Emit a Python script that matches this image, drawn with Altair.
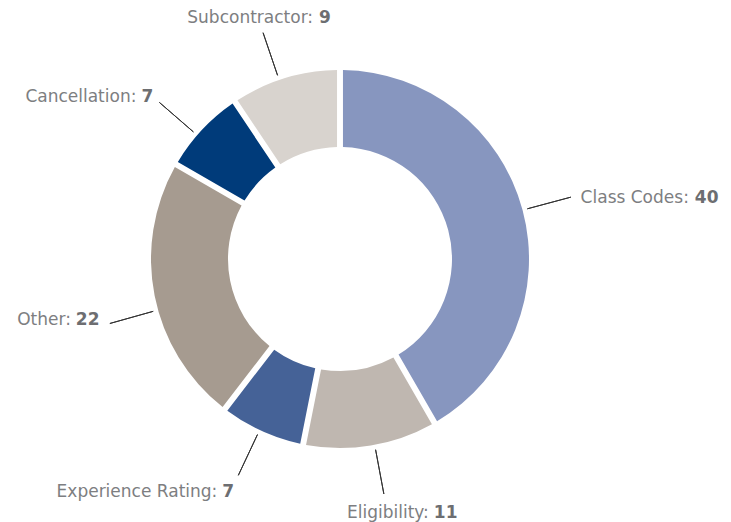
import math
import altair as alt
import pandas as pd

categories = ["Class Codes", "Eligibility", "Experience Rating", "Other", "Cancellation", "Subcontractor"]
values = [40, 11, 7, 22, 7, 9]
colors = ["#8796bf", "#bfb7b0", "#456297", "#a69b90", "#003b7a", "#d8d3ce"]

TOTAL = sum(values)
df = pd.DataFrame({"category": categories, "value": values, "order": list(range(len(categories)))})

# label layout: (leader angle nudge in degrees, name dx, value dx, dy)
layout = {
    "Class Codes": (0.0, 118, 124, 6),
    "Eligibility": (-1.2, 45, 50, 24),
    "Experience Rating": (0.8, -21, -16, 22),
    "Other": (-4.4, -39, -34, 2),
    "Cancellation": (-2.2, -23, -18, 0),
    "Subcontractor": (-1.9, 50, 56, -10),
}

FONT = "DejaVu Sans"
W, H = 680, 518

base = alt.Chart(df).transform_window(
    cum="sum(value)", sort=[alt.SortField("order")], frame=[None, 0]
).transform_calculate(
    start="datum.cum - datum.value",
    mid="datum.cum - datum.value / 2",
)

theta_scale = alt.Scale(domain=[0, TOTAL], range=[0, 2 * math.pi])

donut = base.mark_arc(outerRadius=189, innerRadius=112, padAngle=0.027).encode(
    theta=alt.Theta("start:Q", scale=theta_scale, stack=None),
    theta2="cum:Q",
    color=alt.Color("category:N", scale=alt.Scale(domain=categories, range=colors), legend=None),
)

layers = [donut]
for cat, (nudge, ndx, vdx, dy) in layout.items():
    sub = base.transform_filter(alt.datum.category == cat).transform_calculate(
        lpos=f"datum.mid + {nudge * TOTAL / 360}",
        lbl="datum.category + ':'",
    )
    th = alt.Theta("lpos:Q", scale=theta_scale, stack=None)
    line = sub.mark_arc(radius=239, radius2=194, fillOpacity=0, stroke="#333333", strokeWidth=1).encode(
        theta=th, theta2="lpos:Q"
    )
    name = sub.mark_text(
        radius=239, align="right", baseline="alphabetic", dx=ndx, dy=dy,
        font=FONT, fontSize=17, color="#7d7e81",
    ).encode(theta=th, text="lbl:N")
    val = sub.mark_text(
        radius=239, align="left", baseline="alphabetic", dx=vdx, dy=dy,
        font=FONT, fontSize=17, fontWeight="bold", color="#6d6e71",
    ).encode(theta=th, text="value:Q")
    layers += [line, name, val]

chart = alt.layer(*layers).properties(
    width=W, height=H,
    padding={"left": 0, "top": 0, "right": 51, "bottom": 4},
    autosize="none",
    background="white",
).configure_view(stroke=None)

chart.save("out.html", embed_options={"renderer": "svg", "actions": False})
